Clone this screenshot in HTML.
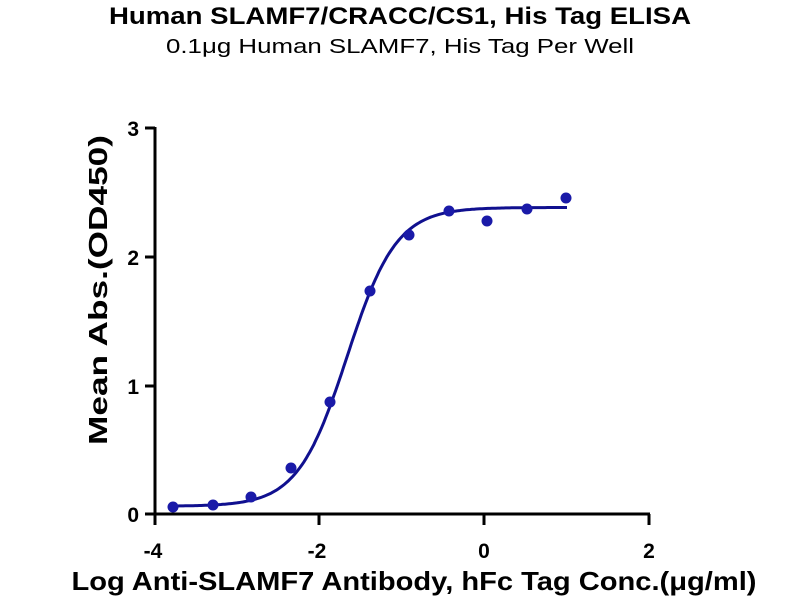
<!DOCTYPE html>
<html><head><meta charset="utf-8"><style>
body{margin:0;background:#fff;}
text{font-family:"Liberation Sans",Arial,sans-serif;}
</style></head><body>
<svg id="s" width="800" height="600" viewBox="0 0 800 600" xmlns="http://www.w3.org/2000/svg">
<text x="400" y="24" text-anchor="middle" font-size="24" font-weight="bold" textLength="582" lengthAdjust="spacingAndGlyphs">Human SLAMF7/CRACC/CS1, His Tag ELISA</text>
<text x="400" y="53" text-anchor="middle" font-size="20" textLength="468" lengthAdjust="spacingAndGlyphs">0.1μg  Human SLAMF7, His Tag Per Well</text>
<g stroke="#000" stroke-width="3" fill="none">
<line x1="155" y1="127" x2="155" y2="516"/>
<line x1="153.5" y1="514" x2="650" y2="514"/>
<line x1="145" y1="128" x2="155" y2="128"/>
<line x1="145" y1="257" x2="155" y2="257"/>
<line x1="145" y1="386" x2="155" y2="386"/>
<line x1="145" y1="514" x2="155" y2="514"/>
<line x1="155" y1="514" x2="155" y2="525"/>
<line x1="319" y1="514" x2="319" y2="525"/>
<line x1="484" y1="514" x2="484" y2="525"/>
<line x1="649" y1="514" x2="649" y2="525"/>
</g>
<g font-size="21" font-weight="bold" text-anchor="end">
<text x="139" y="136">3</text><text x="139" y="265">2</text><text x="139" y="394">1</text><text x="139" y="522">0</text>
</g>
<g font-size="21" font-weight="bold" text-anchor="middle">
<text x="153" y="558">-4</text><text x="317" y="558">-2</text><text x="484" y="558">0</text><text x="649" y="558">2</text>
</g>
<text x="414" y="590" text-anchor="middle" font-size="26" font-weight="bold" textLength="685" lengthAdjust="spacingAndGlyphs">Log Anti-SLAMF7 Antibody, hFc Tag Conc.(μg/ml)</text>
<text transform="translate(107,290) rotate(-90)" text-anchor="middle" font-size="26" font-weight="bold" textLength="310" lengthAdjust="spacingAndGlyphs">Mean Abs.(OD450)</text>
<path id="c" fill="none" stroke="#10108f" stroke-width="3"/>
<g fill="#1a1aa8">
<circle cx="173" cy="507" r="5.5"/><circle cx="213" cy="505" r="5.5"/><circle cx="251" cy="497" r="5.5"/>
<circle cx="291" cy="468" r="5.5"/><circle cx="330" cy="402" r="5.5"/><circle cx="370" cy="291" r="5.5"/>
<circle cx="409" cy="235" r="5.5"/><circle cx="449" cy="211" r="5.5"/><circle cx="487" cy="221" r="5.5"/>
<circle cx="527" cy="209" r="5.5"/><circle cx="566" cy="198" r="5.5"/>
</g>
</svg>
<script>
var d="";for(var i=0;i<=200;i++){var lx=-3.8+4.8*i/200;var y=0.06+(2.32)/(1+Math.pow(10,(-1.67-lx)*1.45));
var px=155+(lx+4)*82.4,py=514-y*128.8;d+=(i?"L":"M")+px.toFixed(1)+","+py.toFixed(1);}
document.getElementById("c").setAttribute("d",d);
</script>
</body></html>
